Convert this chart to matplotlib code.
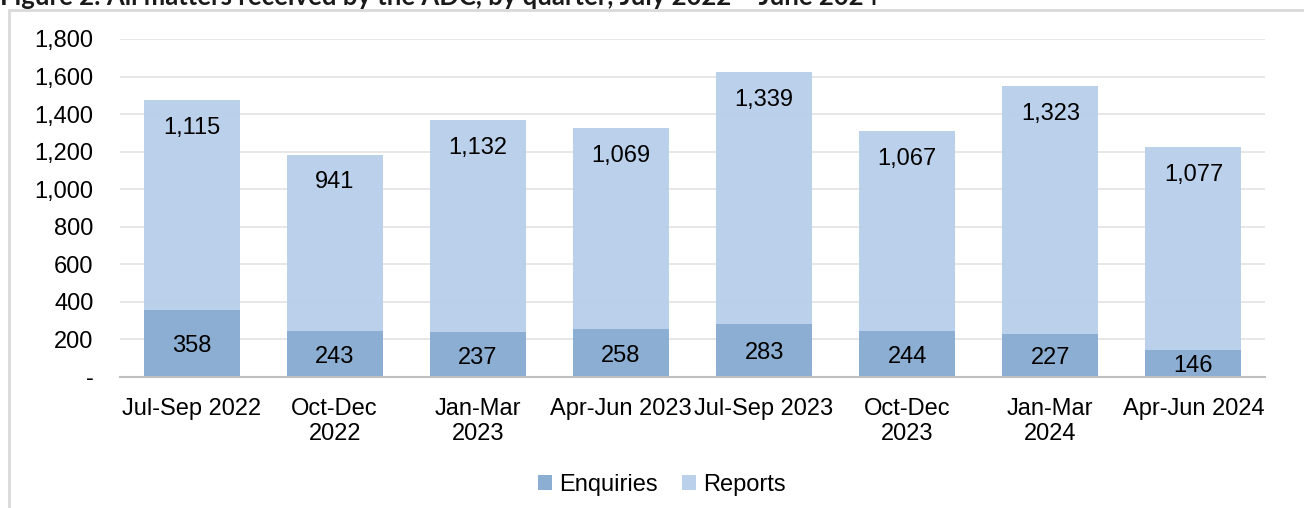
import matplotlib.pyplot as plt
import matplotlib.patches as mpatches
import numpy as np

plt.rcParams['font.family'] = ['Liberation Sans', 'DejaVu Sans']

quarters = ['Jul-Sep 2022', 'Oct-Dec\n2022', 'Jan-Mar\n2023', 'Apr-Jun 2023',
            'Jul-Sep 2023', 'Oct-Dec\n2023', 'Jan-Mar\n2024', 'Apr-Jun 2024']
enquiries = [358, 243, 237, 258, 283, 244, 227, 146]
reports = [1115, 941, 1132, 1069, 1339, 1067, 1323, 1077]

enq_col = '#85aad0'
rep_col = '#b8cee9'

fig = plt.figure(figsize=(13.04, 5.08), dpi=100)

# outer frame of the figure box, runs off the right and bottom edges
fig.patches.append(mpatches.Rectangle((9 / 1304, -0.1), 1.2, 1 - 10 / 508 + 0.1,
                                      transform=fig.transFigure, fill=False,
                                      edgecolor='#d9d9d9', linewidth=2))
fig.text(0.0, 1 - 5 / 508, 'Figure 2: All matters received by the ADC, by quarter, July 2022 \u2013 June 2024',
         fontsize=18.5, fontweight='bold', family=['Lato', 'DejaVu Sans'],
         ha='left', va='baseline', color='#1a1a1a')

ax = fig.add_axes([120 / 1304, 1 - 377 / 508, 1145 / 1304, 338 / 508])
x = np.arange(len(quarters))
w = 0.67
b1 = ax.bar(x, enquiries, w, color=enq_col, alpha=0.95, label='Enquiries', zorder=2)
b2 = ax.bar(x, reports, w, bottom=enquiries, color=rep_col, alpha=0.95, label='Reports', zorder=2)

for i in range(len(x)):
    ax.annotate(str(enquiries[i]), (x[i], enquiries[i] / 2), xytext=(0, -2),
                textcoords='offset points', ha='center', va='center',
                fontsize=17, color='black', zorder=3)
    ax.annotate(f'{reports[i]:,}', (x[i], enquiries[i] + reports[i]), xytext=(0, -20),
                textcoords='offset points', ha='center', va='center',
                fontsize=17, color='black', zorder=3)

ax.set_xlim(-0.5, len(quarters) - 0.5)
ax.set_ylim(0, 1800)
ax.set_yticks(range(0, 1801, 200))
ax.set_yticklabels(['-' if v == 0 else f'{v:,}' for v in range(0, 1801, 200)])
ax.set_xticks(x)
ax.set_xticklabels(quarters)
ax.tick_params(axis='both', length=0, labelsize=17)
ax.tick_params(axis='y', pad=19)
ax.tick_params(axis='x', pad=15)
ax.grid(axis='y', color='#e3e3e3', linewidth=1.2, zorder=0)
for s in ['top', 'right', 'left']:
    ax.spines[s].set_visible(False)
ax.spines['bottom'].set_color('#bfbfbf')
ax.spines['bottom'].set_linewidth(1.5)
ax.set_axisbelow(True)

fig.legend(handles=[b1, b2], loc='center', bbox_to_anchor=(662 / 1304, 1 - 485 / 508),
           ncol=2, frameon=False, fontsize=17, handlelength=0.6, handleheight=0.6,
           handletextpad=0.3, columnspacing=1.0)

fig.savefig('out.png', dpi=100)
